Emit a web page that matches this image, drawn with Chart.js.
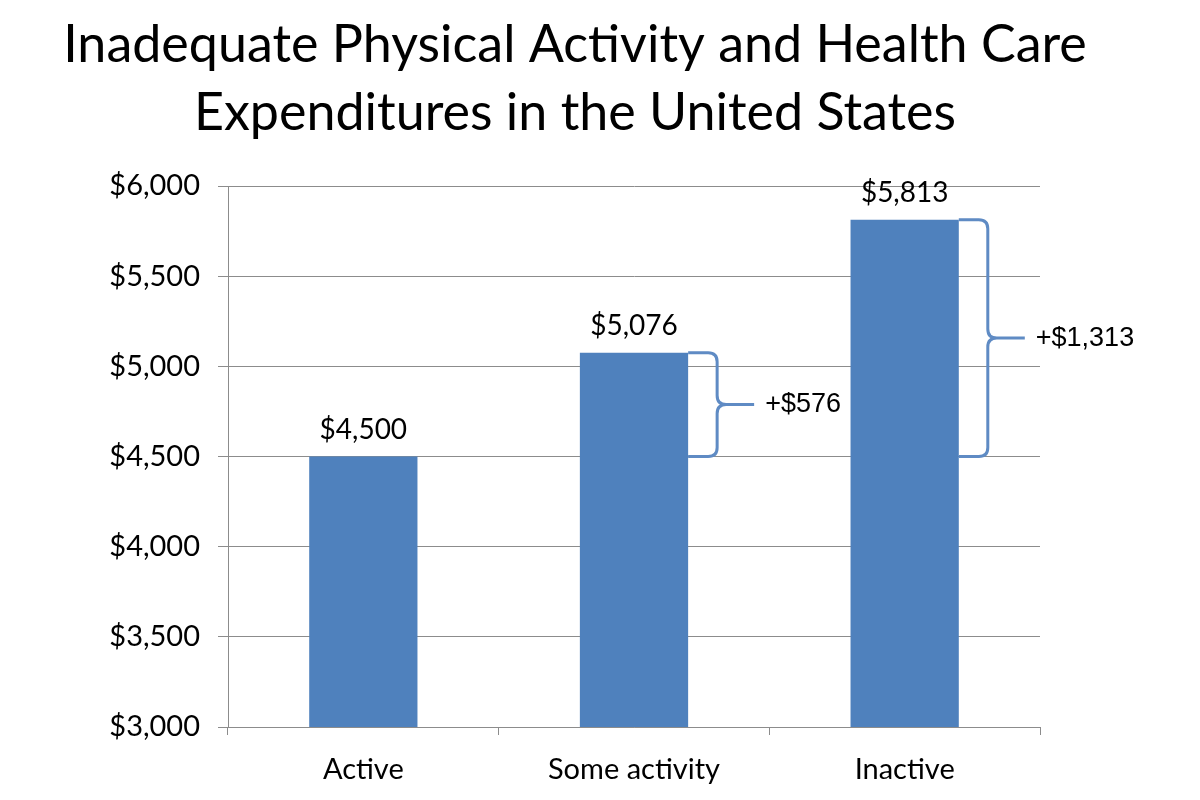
<!DOCTYPE html>
<html>
<head>
<meta charset="utf-8">
<script src="https://cdn.jsdelivr.net/npm/chart.js@4.4.0/dist/chart.umd.min.js"></script>
<style>
  html, body { margin: 0; padding: 0; background: #fff; }
  #wrap { width: 1200px; height: 800px; }
</style>
</head>
<body>
<div id="wrap"><canvas id="costChart" width="1200" height="800"></canvas></div>
<script>
// chart data
const categories = ['Active', 'Some activity', 'Inactive'];
const spending = [4500, 5076, 5813];
const titleLines = ['Inadequate Physical Activity and Health Care', 'Expenditures in the United States'];
const yMin = 3000, yMax = 6000, yStep = 500;

const barBlue = '#4F81BD';
const braceBlue = '#5F8BC4';
const gridGray = '#8C8C8C';
const mainFont = 'Lato, "Open Sans", sans-serif';

function money(v) {
    return '$' + v.toLocaleString('en-US');
}

// title, value labels and the braces showing the extra cost over "Active"
const annotations = {
    id: 'annotations',
    afterDraw(chart) {
        const ctx = chart.ctx;
        const yScale = chart.scales.y;
        const bars = chart.getDatasetMeta(0).data;

        ctx.save();
        ctx.fillStyle = '#000';
        ctx.textAlign = 'center';
        ctx.textBaseline = 'middle';
        ctx.font = '52px ' + mainFont;
        ctx.fillText(titleLines[0], 575, 45);
        ctx.fillText(titleLines[1], 575, 113);

        ctx.font = '28px ' + mainFont;
        bars.forEach((bar, i) => {
            ctx.fillText(money(spending[i]), bar.x, bar.y - 27);
        });

        const baseY = yScale.getPixelForValue(spending[0]);
        for (let i = 1; i < bars.length; i++) {
            const bar = bars[i];
            const x0 = bar.x + bar.width / 2;
            const yt = bar.y;
            const yb = baseY;
            const ym = (yt + yb) / 2;
            const xv = x0 + 29;
            const xt = xv + 37;
            const r = 9;

            ctx.strokeStyle = braceBlue;
            ctx.lineWidth = 3;
            ctx.beginPath();
            ctx.moveTo(x0, yt);
            ctx.lineTo(xv - r, yt);
            ctx.quadraticCurveTo(xv, yt, xv, yt + r);
            ctx.lineTo(xv, ym - r);
            ctx.quadraticCurveTo(xv, ym, xv + r, ym);
            ctx.lineTo(xt, ym);
            ctx.moveTo(xv + r, ym);
            ctx.quadraticCurveTo(xv, ym, xv, ym + r);
            ctx.lineTo(xv, yb - r);
            ctx.quadraticCurveTo(xv, yb, xv - r, yb);
            ctx.lineTo(x0, yb);
            ctx.stroke();

            ctx.font = '27px "Liberation Sans", Arial, sans-serif';
            ctx.textAlign = 'left';
            ctx.fillText('+' + money(spending[i] - spending[0]), xt + 11, ym);
            ctx.textAlign = 'center';
            ctx.font = '28px ' + mainFont;
        }
        ctx.restore();
    }
};

const ctx = document.getElementById('costChart').getContext('2d');
new Chart(ctx, {
    type: 'bar',
    data: {
        labels: categories,
        datasets: [{
            data: spending,
            backgroundColor: barBlue,
            borderWidth: 0,
            barPercentage: 0.4,
            categoryPercentage: 1.0
        }]
    },
    options: {
        responsive: false,
        animation: false,
        layout: { padding: { top: 186, right: 160, left: 0, bottom: 0 } },
        plugins: {
            legend: { display: false },
            title: { display: false },
            tooltip: { enabled: false }
        },
        scales: {
            x: {
                afterFit(scale) { scale.height = 73; },
                grid: {
                    offset: true,
                    drawOnChartArea: false,
                    drawTicks: true,
                    tickLength: 8,
                    color: gridGray
                },
                border: { color: gridGray, width: 1 },
                ticks: {
                    color: '#000',
                    padding: 17,
                    font: { family: mainFont, size: 29 }
                }
            },
            y: {
                min: yMin,
                max: yMax,
                afterFit(scale) { scale.width = 228; },
                grid: {
                    color: gridGray,
                    tickLength: 10,
                    lineWidth: 1
                },
                border: { color: gridGray, width: 1 },
                ticks: {
                    stepSize: yStep,
                    color: '#000',
                    padding: 18,
                    font: { family: mainFont, size: 29 },
                    callback: v => money(v)
                }
            }
        }
    },
    plugins: [annotations]
});
</script>
</body>
</html>
